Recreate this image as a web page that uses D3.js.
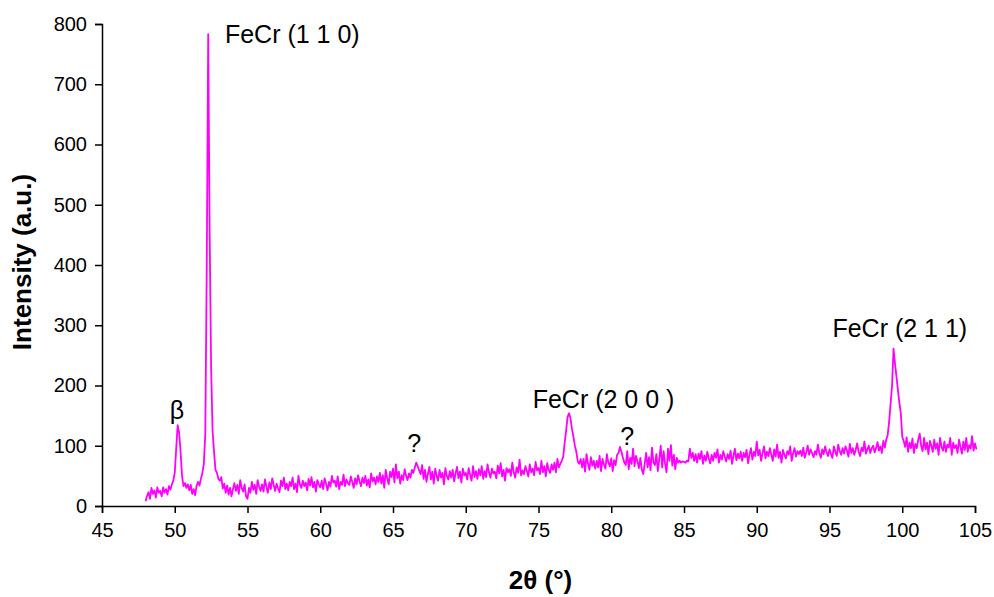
<!DOCTYPE html>
<html>
<head>
<meta charset="utf-8">
<script src="https://cdn.jsdelivr.net/npm/d3@7"></script>
<style>
  html, body { margin: 0; padding: 0; background: #fff; }
  svg { display: block; font-family: "Liberation Sans", Arial, sans-serif; }
</style>
</head>
<body>
<svg id="chart" width="994" height="597"></svg>
<script>
// XRD scan: intensity sampled every 0.1° of 2θ starting at 48.0°
const angleStart = 48.0;
const angleStep = 0.1;
const intensity = [
  // 48.x
  8, 17, 23, 12, 30, 20, 26, 14, 31, 22,
  // 49.x
  25, 16, 31, 22, 28, 19, 33, 27, 36, 42,
  // 50.x
  55, 95, 134, 122, 90, 50, 33, 38, 30, 36,
  // 51.x
  26, 35, 20, 28, 18, 33, 40, 34, 45, 55,
  // 52.x
  70, 120, 400, 783, 450, 230, 125, 90, 60, 55,
  // 53.x
  45, 42, 48, 29, 37, 22, 34, 19, 30, 16,
  // 54.x
  28, 38, 25, 35, 20, 43, 30, 24, 36, 16,
  // 55.x
  12, 30, 22, 40, 27, 35, 20, 43, 32, 25,
  // 56.x
  36, 24, 44, 32, 22, 39, 28, 46, 35, 25,
  // 57.x
  37, 29, 23, 42, 33, 47, 28, 37, 26, 40,
  // 58.x
  33, 47, 28, 37, 23, 50, 36, 30, 42, 33,
  // 59.x
  39, 26, 45, 34, 48, 31, 40, 24, 43, 36,
  // 60.x
  31, 42, 28, 46, 37, 26, 40, 32, 50, 39,
  // 61.x
  42, 32, 49, 28, 40, 35, 52, 33, 44, 38,
  // 62.x
  35, 49, 40, 30, 46, 36, 51, 41, 33, 47,
  // 63.x
  38, 50, 34, 44, 31, 54, 41, 47, 36, 49,
  // 64.x
  40, 55, 37, 51, 30, 60, 46, 36, 57, 48,
  // 65.x
  62, 39, 69, 46, 57, 37, 51, 43, 61, 50,
  // 66.x
  43, 54, 47, 60, 55, 64, 72, 66, 59, 53,
  // 67.x
  68, 45, 60, 40, 53, 65, 44, 57, 37, 62,
  // 68.x
  50, 42, 60, 47, 55, 36, 63, 50, 44, 58,
  // 69.x
  47, 60, 41, 54, 65, 46, 57, 39, 62, 51,
  // 70.x
  55, 44, 63, 52, 42, 66, 48, 58, 45, 61,
  // 71.x
  51, 66, 45, 58, 48, 69, 55, 47, 62, 54,
  // 72.x
  57, 46, 67, 54, 71, 49, 60, 42, 63, 56,
  // 73.x
  61, 50, 72, 56, 47, 64, 55, 77, 51, 59,
  // 74.x
  53, 66, 58, 49, 69, 56, 62, 51, 73, 59,
  // 75.x
  63, 53, 75, 56, 66, 49, 71, 60, 55, 69,
  // 76.x
  60, 72, 56, 78, 64, 70, 75, 82, 105, 125,
  // 77.x
  148, 154, 145, 128, 115, 100, 90, 74, 70, 78,
  // 78.x
  64, 78, 57, 86, 70, 60, 81, 67, 75, 62,
  // 79.x
  75, 64, 83, 58, 78, 69, 62, 86, 72, 66,
  // 80.x
  79, 58, 76, 68, 85, 88, 98, 90, 80, 72,
  // 81.x
  68, 91, 61, 80, 70, 95, 66, 83, 74, 63,
  // 82.x
  80, 60, 53, 70, 88, 64, 81, 59, 97, 72,
  // 83.x
  68, 86, 58, 78, 100, 64, 91, 70, 56, 95,
  // 84.x
  75, 101, 67, 85, 61, 80, 72, 75, 72, 74,
  // 85.x
  73, 72, 75, 74, 95, 80, 88, 75, 86, 72,
  // 86.x
  87, 78, 91, 70, 84, 75, 90, 79, 71, 85,
  // 87.x
  75, 88, 80, 94, 72, 85, 77, 91, 82, 74,
  // 88.x
  86, 78, 92, 70, 83, 95, 76, 87, 79, 90,
  // 89.x
  75, 88, 81, 93, 71, 85, 96, 77, 90, 83,
  // 90.x
  107, 84, 93, 75, 88, 99, 79, 90, 83, 96,
  // 91.x
  85, 75, 94, 82, 102, 80, 90, 72, 93, 85,
  // 92.x
  79, 91, 85, 99, 75, 88, 96, 82, 91, 86,
  // 93.x
  92, 83, 97, 80, 89, 100, 85, 94, 88, 81,
  // 94.x
  91, 85, 102, 88, 80, 94, 86, 99, 89, 83,
  // 95.x
  94, 86, 80, 99, 90, 83, 102, 91, 85, 96,
  // 96.x
  87, 99, 92, 82, 103, 88, 96, 85, 93, 104,
  // 97.x
  90, 83, 97, 91, 107, 87, 94, 100, 88, 96,
  // 98.x
  100, 89, 96, 106, 92, 99, 88, 108, 97, 110,
  // 99.x
  118, 140, 170, 200, 261, 237, 215, 193, 172, 154,
  // 100.x
  115, 108, 98, 114, 90, 105, 96, 112, 88, 103,
  // 101.x
  96, 110, 120, 100, 91, 113, 94, 105, 86, 108,
  // 102.x
  100, 90, 110, 95, 104, 85, 113, 98, 92, 107,
  // 103.x
  90, 102, 97, 113, 85, 105, 96, 101, 88, 110,
  // 104.x
  98, 87, 107, 93, 113, 90, 101, 95, 116, 92,
  // 105.x
  104, 94
];

const xTicks = [45, 50, 55, 60, 65, 70, 75, 80, 85, 90, 95, 100, 105];
const yTicks = [0, 100, 200, 300, 400, 500, 600, 700, 800];

// Peak labels, anchored in data coordinates (2θ, intensity)
const peakLabels = ["FeCr (1 1 0)", "\u03B2", "?", "FeCr (2 0 0 )", "?", "FeCr (2 1 1)"];
const peakLabelAngle = [53.45, 50.15, 66.45, 74.6, 81.1, 95.2];
const peakLabelLevel = [768, 144, 90, 162, 101, 281];
const peakLabelAnchor = ["start", "middle", "middle", "start", "middle", "start"];

const svg = d3.select("#chart");

const x = d3.scaleLinear().domain([45, 105]).range([102, 975]);
const y = d3.scaleLinear().domain([0, 800]).range([506, 24]);

const points = intensity.map((v, i) => [angleStart + i * angleStep, v]);

// Diffraction trace
svg.append("path")
  .datum(points)
  .attr("fill", "none")
  .attr("stroke", "#ff00ff")
  .attr("stroke-width", 1.8)
  .attr("stroke-linejoin", "round")
  .attr("d", d3.line().x(d => x(d[0])).y(d => y(d[1])));

// Axes
const xAxis = svg.append("g")
  .attr("transform", `translate(0,${y(0)})`)
  .call(d3.axisBottom(x).tickValues(xTicks).tickSize(7).tickPadding(10).tickFormat(d3.format("d")));
const yAxis = svg.append("g")
  .attr("transform", `translate(${x(45)},0)`)
  .call(d3.axisLeft(y).tickValues(yTicks).tickSize(7).tickPadding(8).tickFormat(d3.format("d")));

[xAxis, yAxis].forEach(g => {
  g.select(".domain").attr("stroke", "#000").attr("stroke-width", 1.5);
  g.selectAll(".tick line").attr("stroke", "#000").attr("stroke-width", 1.5);
  g.selectAll(".tick text").attr("fill", "#000").style("font-size", "20px")
    .style("font-family", "'Liberation Sans', Arial, sans-serif");
});

// Axis titles
svg.append("text")
  .attr("transform", `translate(31,${(y(0) + y(800)) / 2 - 3}) rotate(-90)`)
  .attr("text-anchor", "middle")
  .style("font-size", "26px")
  .style("font-weight", "bold")
  .text("Intensity (a.u.)");

svg.append("text")
  .attr("x", (x(45) + x(105)) / 2 + 2)
  .attr("y", 589)
  .attr("text-anchor", "middle")
  .style("font-size", "26px")
  .style("font-weight", "bold")
  .text("2\u03B8 (\u00B0)");

// Peak annotations
svg.append("g").selectAll("text")
  .data(peakLabels)
  .join("text")
  .attr("x", (d, i) => x(peakLabelAngle[i]))
  .attr("y", (d, i) => y(peakLabelLevel[i]))
  .attr("text-anchor", (d, i) => peakLabelAnchor[i])
  .style("font-size", "25px")
  .attr("fill", "#000")
  .text(d => d);
</script>
</body>
</html>
